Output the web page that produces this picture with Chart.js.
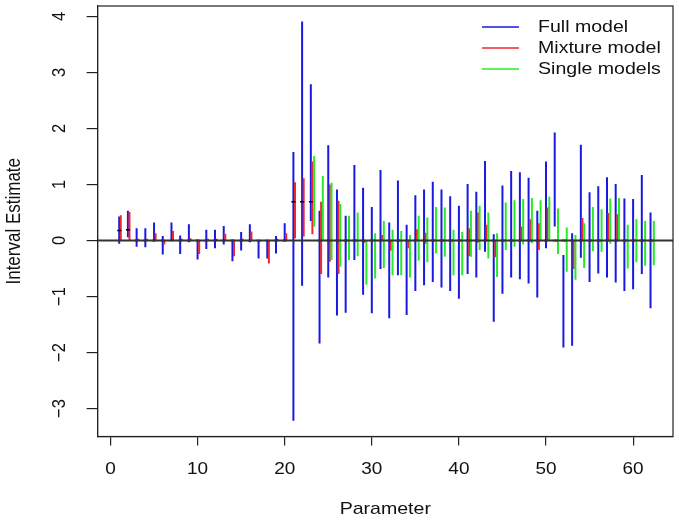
<!DOCTYPE html>
<html>
<head>
<meta charset="utf-8">
<script src="https://cdn.jsdelivr.net/npm/chart.js@4"></script>
<style>
  html, body { margin: 0; padding: 0; background: #fff; }
  canvas { display: block; }
</style>
</head>
<body>
<canvas id="chart" width="679" height="522"></canvas>
<script>
// Parameter index 1..62
const params = Array.from({ length: 62 }, (_, i) => i + 1);

// Full model intervals
const fullLo = [-0.06, 0.06, -0.11, -0.12, -0.02, -0.25, 0.00, -0.24, -0.03, -0.34,
  -0.15, -0.14, -0.07, -0.37, -0.18, -0.03, -0.32, -0.32, -0.23, -0.02,
  -3.22, -0.81, 0.35, -1.84, -0.66, -1.34, -1.29, -0.35, -0.97, -1.30,
  -0.51, -1.39, -0.62, -1.33, -0.90, -0.80, -0.74, -0.84, -0.90, -1.04,
  -0.60, -0.66, -0.20, -1.45, -0.95, -0.66, -0.69, -0.77, -1.02, -0.14,
  0.25, -1.91, -1.88, -0.31, -0.74, -0.59, -0.66, -0.75, -0.90, -0.87,
  -0.60, -1.21];
const fullHi = [0.43, 0.53, 0.22, 0.22, 0.32, 0.08, 0.32, 0.09, 0.29, 0.02,
  0.19, 0.19, 0.26, 0.02, 0.15, 0.29, 0.00, 0.00, 0.08, 0.31,
  1.58, 3.91, 2.79, 0.53, 1.70, 0.91, 0.44, 1.35, 0.94, 0.60,
  1.26, 0.32, 1.07, 0.28, 0.81, 0.91, 1.05, 0.91, 0.79, 0.62,
  1.01, 0.87, 1.42, 0.11, 0.98, 1.24, 1.22, 1.12, 0.53, 1.41,
  1.93, -0.26, 0.13, 1.71, 0.86, 0.97, 1.13, 1.01, 0.75, 0.74,
  1.17, 0.50];

// Mixture model intervals
const mixLo = [0.00, 0.00, 0.00, 0.00, 0.00, -0.07, 0.00, 0.00, 0.00, -0.24,
  0.00, 0.00, 0.00, -0.28, 0.00, 0.00, -0.02, -0.41, 0.00, 0.00,
  0.04, 0.07, 0.11, -0.60, -0.38, -0.60, -0.02, -0.02, -0.04, 0.00,
  0.00, -0.18, -0.02, -0.14, 0.00, -0.06, -0.02, -0.02, -0.02, -0.02,
  -0.28, -0.04, 0.00, -0.30, -0.02, -0.02, 0.00, -0.02, -0.17, 0.00,
  -0.02, -0.02, -0.51, 0.00, -0.02, -0.02, -0.02, -0.02, -0.02, -0.02,
  -0.02, -0.02];
const mixHi = [0.45, 0.51, 0.03, 0.03, 0.13, 0.00, 0.17, 0.03, 0.04, 0.00,
  0.03, 0.03, 0.12, 0.00, 0.03, 0.16, 0.01, 0.00, 0.03, 0.13,
  1.04, 1.11, 1.41, 0.69, 1.00, 0.71, 0.02, 0.02, 0.01, 0.02,
  0.10, 0.00, 0.02, 0.00, 0.20, 0.14, 0.02, 0.02, 0.02, 0.02,
  0.22, 0.50, 0.28, 0.00, 0.02, 0.02, 0.25, 0.38, 0.31, 0.59,
  0.02, 0.02, 0.00, 0.40, 0.02, 0.02, 0.49, 0.47, 0.02, 0.02,
  0.02, 0.02];

// Single model intervals (none for the first 22 parameters)
const singleLo = [null, null, null, null, null, null, null, null, null, null,
  null, null, null, null, null, null, null, null, null, null,
  null, null, 0.25, 0.01, -0.35, -0.47, -0.35, -0.28, -0.79, -0.68,
  -0.49, -0.62, -0.62, -0.66, -0.36, -0.39, -0.23, -0.29, -0.62, -0.62,
  -0.29, -0.17, -0.32, -0.65, -0.17, -0.11, -0.07, -0.05, -0.02, 0.00,
  -0.24, -0.56, -0.70, -0.49, -0.19, -0.20, -0.06, 0.00, -0.50, -0.39,
  -0.45, -0.44];
const singleHi = [null, null, null, null, null, null, null, null, null, null,
  null, null, null, null, null, null, null, null, null, null,
  null, null, 1.51, 1.15, 1.03, 0.65, 0.44, 0.50, 0.00, 0.13,
  0.35, 0.19, 0.17, 0.10, 0.44, 0.41, 0.60, 0.59, 0.19, 0.15,
  0.53, 0.62, 0.50, 0.13, 0.68, 0.72, 0.74, 0.76, 0.72, 0.78,
  0.57, 0.23, 0.10, 0.31, 0.60, 0.56, 0.75, 0.76, 0.28, 0.38,
  0.35, 0.35];

// Point estimates (short black marks)
const pointEst = [0.18, 0.19, 0, 0, 0, 0, 0, 0, 0, 0,
  0, 0, 0, 0, 0, 0, 0, 0, 0, 0,
  0.69, 0.69, 0.69, 0, 0, 0, 0, 0, 0, 0,
  0, 0, 0, 0, 0, 0, 0, 0, 0, 0,
  0, 0, 0, 0, 0, 0, 0, 0, 0, 0,
  0, 0, 0, 0, 0, 0, 0, 0, 0, 0,
  0, 0];

const xTicks = [0, 10, 20, 30, 40, 50, 60];
const yTicks = [-3, -2, -1, 0, 1, 2, 3, 4];

const legendItems = [
  { text: "Full model", color: "rgb(25,25,225)" },
  { text: "Mixture model", color: "rgb(235,40,50)" },
  { text: "Single models", color: "rgb(40,235,40)" }
];

// vertical segments separated by gaps
function segments(lo, hi, shift) {
  const out = [];
  params.forEach((p, i) => {
    if (lo[i] == null || hi[i] == null) return;
    out.push({ x: p + shift, y: lo[i] }, { x: p + shift, y: hi[i] }, { x: p + shift, y: null });
  });
  return out;
}

const FONT = '"Liberation Sans", Arial, Helvetica, sans-serif';
const STRETCH = 1.15;

function stretchedText(ctx, str, x, y, size, rotate) {
  ctx.save();
  ctx.translate(x, y);
  ctx.scale(STRETCH, 1);
  if (rotate) ctx.rotate(-Math.PI / 2);
  ctx.font = size + "px " + FONT;
  ctx.textAlign = "center";
  ctx.textBaseline = "middle";
  ctx.fillStyle = "#111";
  ctx.fillText(str, 0, 0);
  ctx.restore();
}

const rPlot = {
  id: "rPlot",
  afterDatasetsDraw(chart) {
    const { ctx, chartArea: a, scales: { y } } = chart;
    ctx.save();
    // abline(h = 0)
    const y0 = y.getPixelForValue(0);
    ctx.strokeStyle = "#333";
    ctx.lineWidth = 2;
    ctx.beginPath();
    ctx.moveTo(a.left, y0);
    ctx.lineTo(a.right, y0);
    ctx.stroke();
    // box
    ctx.strokeStyle = "#222";
    ctx.lineWidth = 1.2;
    ctx.strokeRect(a.left, a.top, a.right - a.left, a.bottom - a.top);
    ctx.restore();
  },
  afterDraw(chart) {
    const { ctx, chartArea: a, scales: { x, y } } = chart;
    xTicks.forEach(v => stretchedText(ctx, String(v), x.getPixelForValue(v), 469, 16.5, false));
    yTicks.forEach(v => stretchedText(ctx, v < 0 ? "\u2212" + Math.abs(v) : String(v), 60, y.getPixelForValue(v), 16.5, true));
    stretchedText(ctx, "Parameter", (a.left + a.right) / 2, 509, 17, false);
    stretchedText(ctx, "Interval Estimate", 15, (a.top + a.bottom) / 2, 17, true);

    // legend
    legendItems.forEach((item, i) => {
      const ly = 27 + i * 21;
      ctx.save();
      ctx.strokeStyle = item.color;
      ctx.lineWidth = 1.3;
      ctx.beginPath();
      ctx.moveTo(482, ly);
      ctx.lineTo(519, ly);
      ctx.stroke();
      ctx.translate(538, ly);
      ctx.scale(STRETCH, 1);
      ctx.font = "17px " + FONT;
      ctx.textAlign = "left";
      ctx.textBaseline = "middle";
      ctx.fillStyle = "#111";
      ctx.fillText(item.text, 0, 0);
      ctx.restore();
    });
  }
};

const lineStyle = { showLine: true, pointRadius: 0, borderWidth: 2, spanGaps: false };

new Chart(document.getElementById("chart").getContext("2d"), {
  type: "scatter",
  data: {
    datasets: [
      { label: "Point estimate", data: params.map((p, i) => ({ x: p, y: pointEst[i] })),
        pointStyle: "line", pointRadius: 2, borderWidth: 1.5, borderColor: "#000", showLine: false, order: 0 },
      { label: "Single models", data: segments(singleLo, singleHi, 0.38),
        borderColor: legendItems[2].color, ...lineStyle, order: 1 },
      { label: "Mixture model", data: segments(mixLo, mixHi, 0.18),
        borderColor: legendItems[1].color, ...lineStyle, order: 2 },
      { label: "Full model", data: segments(fullLo, fullHi, 0),
        borderColor: legendItems[0].color, ...lineStyle, order: 3 }
    ]
  },
  options: {
    responsive: false,
    animation: false,
    layout: { padding: { top: 6, right: 6, left: 0, bottom: 0 } },
    plugins: { legend: { display: false }, tooltip: { enabled: false } },
    scales: {
      x: {
        type: "linear",
        min: -1.48,
        max: 64.58,
        afterBuildTicks: s => { s.ticks = xTicks.map(v => ({ value: v })); },
        afterFit: s => { s.height = 85.5; },
        ticks: { display: false },
        grid: { drawOnChartArea: false, drawTicks: true, tickLength: 9, color: "#222", lineWidth: 1.2 },
        border: { display: true, color: "#222", width: 1.2 }
      },
      y: {
        type: "linear",
        min: -3.5,
        max: 4.1875,
        afterBuildTicks: s => { s.ticks = yTicks.map(v => ({ value: v })); },
        afterFit: s => { s.width = 97.6; },
        ticks: { display: false },
        grid: { drawOnChartArea: false, drawTicks: true, tickLength: 11, color: "#222", lineWidth: 1.2 },
        border: { display: true, color: "#222", width: 1.2 }
      }
    }
  },
  plugins: [rPlot]
});
</script>
</body>
</html>
